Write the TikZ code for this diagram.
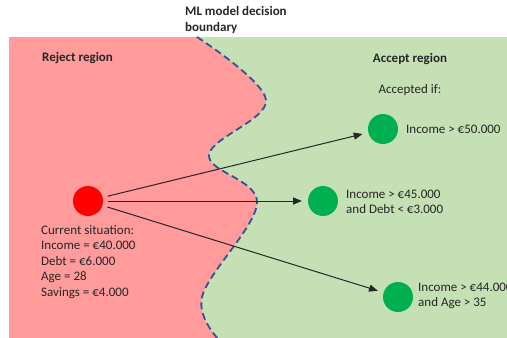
\documentclass[tikz,border=0pt]{standalone}
\usepackage{fontspec}
\setmainfont{Carlito}
\usetikzlibrary{arrows}
\definecolor{rejectred}{HTML}{FF9B9B}
\definecolor{acceptgreen}{HTML}{C5E0B4}
\definecolor{okgreen}{HTML}{00B050}
\definecolor{boundblue}{HTML}{2F5597}
\definecolor{txtgray}{HTML}{262626}
\begin{document}
\begin{tikzpicture}[x=1pt, y=-1pt, font=\fontsize{13}{15.5}\selectfont, text=txtgray,
  dot/.style={circle, minimum size=30pt, inner sep=0},
  cond/.style={anchor=west, align=left, inner sep=0}]
\useasboundingbox (0,0) rectangle (507,338);
\clip (0,0) rectangle (507,338);
% regions
\fill[rejectred] (9,37) rectangle (507,338);
\fill[acceptgreen] plot[smooth, tension=.6] coordinates {(197,37) (266,100) (209,155) (257,203) (202,297) (224,345)}
  -- (507,345) -- (507,37) -- cycle;
\draw[boundblue, line width=1.8pt, dash pattern=on 7pt off 4pt]
  plot[smooth, tension=.6] coordinates {(197,37) (266,100) (209,155) (257,203) (202,297) (224,345)};
% titles
\node[cond, font=\fontsize{13}{16}\selectfont\bfseries] (bnd) at (185,20) {ML model decision\\boundary};
\node[cond, font=\fontsize{13}{16}\selectfont\bfseries] (rej) at (42,58) {Reject region};
\node[inner sep=0, font=\fontsize{13}{16}\selectfont\bfseries] (acc) at (410,59) {Accept region};
\node[inner sep=0] (accif) at (410,90) {Accepted if:};
% points
\node[dot, fill=red] (cur) at (88,201) {};
\node[dot, fill=okgreen] (opt1) at (383,129) {};
\node[dot, fill=okgreen] (opt2) at (323,201) {};
\node[dot, fill=okgreen] (opt3) at (398,297) {};
\foreach \n in {opt1,opt2,opt3}
 \draw[black!85, line width=1pt, ->, >=triangle 45, shorten <=5pt, shorten >=6pt] (cur) -- (\n);
% texts
\node[cond] (cursit) at (41,262) {Current situation:\\Income = €40.000\\Debt = €6.000\\Age = 28\\Savings = €4.000};
\node[cond] (c1) at (406,129) {Income > €50.000};
\node[cond] (c2) at (346,202) {Income > €45.000\\and Debt < €3.000};
\node[cond] (c3) at (418,296) {Income > €44.000\\and Age > 35};
\end{tikzpicture}
\end{document}
